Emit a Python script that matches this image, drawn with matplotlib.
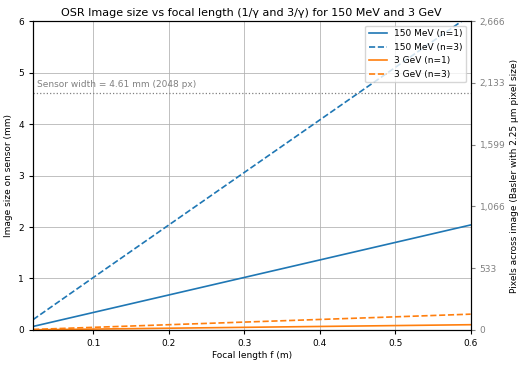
import numpy as np
import matplotlib
matplotlib.use("Agg")
import matplotlib.pyplot as plt

# focal lengths (m) and image sizes (mm)
FOCAL = [0.02, 0.1, 0.2, 0.3, 0.4, 0.5, 0.6]
MEV150_N1 = [0.068, 0.34, 0.68, 1.02, 1.36, 1.70, 2.04]
MEV150_N3 = [0.20, 1.02, 2.04, 3.06, 4.08, 5.10, 6.12]
GEV3_N1 = [0.003, 0.017, 0.034, 0.051, 0.068, 0.085, 0.102]
GEV3_N3 = [0.010, 0.051, 0.102, 0.153, 0.204, 0.255, 0.307]

SENSOR_MM = 4.61
PIXEL_UM = 2.25
PX_TICKS = ["0", "533", "1,066", "1,599", "2,133", "2,666"]

FS = 6.5

fig, ax = plt.subplots(figsize=(5.2, 3.65), dpi=100)

ax.plot(FOCAL, MEV150_N1, color="C0", ls="-", lw=1.2, label="150 MeV (n=1)")
ax.plot(FOCAL, MEV150_N3, color="C0", ls="--", lw=1.2, label="150 MeV (n=3)")
ax.plot(FOCAL, GEV3_N1, color="C1", ls="-", lw=1.2, label="3 GeV (n=1)")
ax.plot(FOCAL, GEV3_N3, color="C1", ls="--", lw=1.2, label="3 GeV (n=3)")

ax.axhline(SENSOR_MM, color="gray", ls=":", lw=0.9)
ax.text(0.025, SENSOR_MM + 0.08, "Sensor width = 4.61 mm (2048 px)", color="gray",
        fontsize=FS, va="bottom")

ax.set_xlim(0.02, 0.6)
ax.set_ylim(0, 6)
ax.grid(True, color="#b0b0b0", lw=0.7, alpha=0.8)
ax.set_xlabel("Focal length f (m)", fontsize=FS, labelpad=2)
ax.set_ylabel("Image size on sensor (mm)", fontsize=FS)
ax.set_title("OSR Image size vs focal length (1/\u03b3 and 3/\u03b3) for 150 MeV and 3 GeV",
             fontsize=8, pad=4)
ax.tick_params(labelsize=FS, length=3)
ax.legend(loc="upper right", fontsize=FS)

ax2 = ax.twinx()
ax2.set_ylim(0, 6 / (PIXEL_UM * 1e-3))
px_pos = np.linspace(0, 6 / (PIXEL_UM * 1e-3), len(PX_TICKS))
ax2.set_yticks(px_pos)
ax2.set_yticklabels(PX_TICKS)
ax2.tick_params(labelsize=FS, colors="gray", length=3)
ax2.set_ylabel("Pixels across image (Basler with 2.25 \u03bcm pixel size)", fontsize=FS,
               labelpad=3)

fig.subplots_adjust(left=0.0635, right=0.905, top=0.942, bottom=0.096)
fig.savefig("out.png", dpi=100)
